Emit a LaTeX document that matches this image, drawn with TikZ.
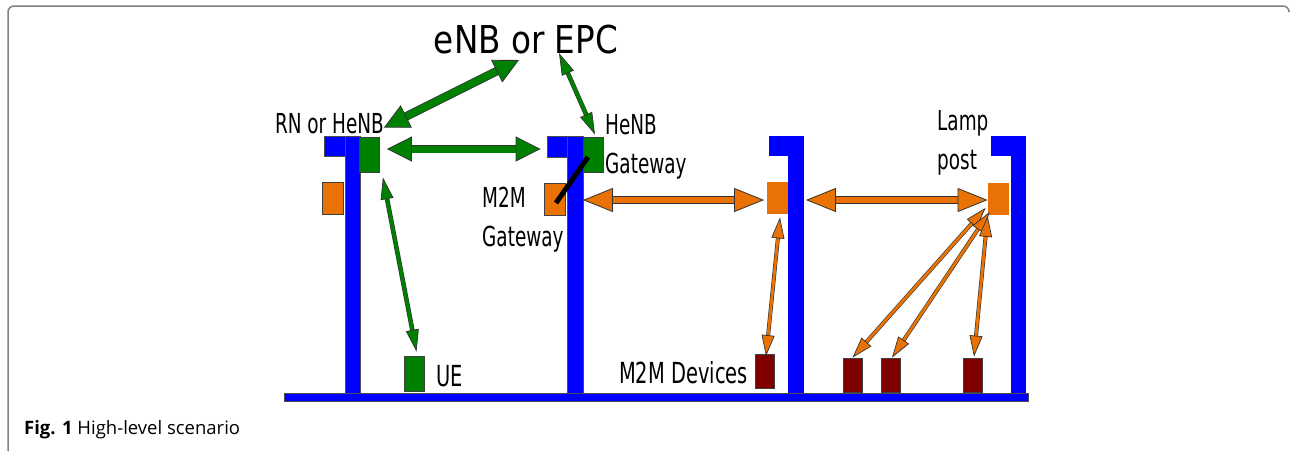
\documentclass[tikz,border=0pt]{standalone}
\usepackage{fontspec}
\usepackage{tikz}
\usetikzlibrary{arrows.meta,calc}
\newfontfamily\sceneFont[FakeStretch=0.67]{DejaVu Sans}
\newfontfamily\titleFont[FakeStretch=0.85]{DejaVu Sans}
\newfontfamily\captionFont{Open Sans}
\definecolor{sceneBlue}{HTML}{0000FF}
\definecolor{sceneGreen}{HTML}{008000}
\definecolor{sceneOrange}{HTML}{EA7204}
\definecolor{sceneRed}{HTML}{800000}
\definecolor{sceneFrame}{HTML}{7F7F7F}
\tikzset{
  frame line/.style={draw=sceneFrame, line width=1.5pt, rounded corners=6pt},
  pole/.style={draw=black!70, line width=0.8pt, fill=sceneBlue},
  hazy pole/.style={fill=sceneBlue},
  unit/.style={rectangle, draw=black!75, line width=0.8pt, inner sep=0pt},
  radio unit/.style={unit, fill=sceneGreen, minimum width=20pt,
    minimum height=35pt},
  m2m unit/.style={unit, fill=sceneOrange, minimum width=21pt,
    minimum height=32pt},
  device unit/.style={unit, fill=sceneRed, minimum width=19pt,
    minimum height=34pt},
  green fat link/.style={draw=sceneGreen, line width=7pt,
    arrows={Triangle[length=25pt,width=25pt,line width=0.8pt,color=black!80,fill=sceneGreen]-Triangle[length=25pt,width=25pt,line width=0.8pt,color=black!80,fill=sceneGreen]},
    preaction={draw=black!80, line width=8.6pt, arrows=-,
      shorten <=11pt, shorten >=11pt}},
  green thin link/.style={draw=sceneGreen, line width=3.4pt,
    arrows={Triangle[length=22pt,width=13pt,line width=0.7pt,color=black!80,fill=sceneGreen]-Triangle[length=22pt,width=13pt,line width=0.7pt,color=black!80,fill=sceneGreen]},
    preaction={draw=black!80, line width=4.6pt, arrows=-,
      shorten <=11pt, shorten >=11pt}},
  orange fat link/.style={draw=sceneOrange, line width=6pt,
    arrows={Triangle[length=30pt,width=24pt,line width=0.8pt,color=black!80,fill=sceneOrange]-Triangle[length=30pt,width=24pt,line width=0.8pt,color=black!80,fill=sceneOrange]},
    preaction={draw=black!80, line width=7.4pt, arrows=-,
      shorten <=12pt, shorten >=12pt}},
  orange thin link/.style={draw=sceneOrange, line width=2.8pt,
    arrows={Triangle[length=21pt,width=13pt,line width=0.7pt,color=black!80,fill=sceneOrange]-Triangle[length=21pt,width=13pt,line width=0.7pt,color=black!80,fill=sceneOrange]},
    preaction={draw=black!80, line width=4pt, arrows=-,
      shorten <=10pt, shorten >=10pt}},
  pole label/.style={inner sep=0pt, align=left,
    font=\sceneFont\fontsize{27.5}{39}\selectfont},
  ground label/.style={inner sep=0pt, font=\sceneFont\fontsize{29}{35}\selectfont},
  title label/.style={inner sep=0pt, font=\titleFont\fontsize{38.4}{46}\selectfont},
  caption label/.style={inner sep=0pt, font=\captionFont\fontsize{18.5}{22}\selectfont}
}
\begin{document}
\begin{tikzpicture}[x=1pt, y=-1pt]
  \useasboundingbox (0,0) rectangle (1292,451);
  \draw[frame line] (8,451) -- (8,6) -- (1289,6) -- (1289,11);

  \draw[pole] (324,136) rectangle (345,156);
  \draw[pole] (345,136) rectangle (360,393);
  \draw[pole] (547,136) rectangle (567,157);
  \draw[pole] (567,136) rectangle (583,393);
  \fill[hazy pole] (769,136) rectangle (788,156);
  \fill[hazy pole] (788,136) rectangle (804,393);
  \fill[hazy pole] (991,136) rectangle (1011,156);
  \fill[hazy pole] (1011,136) rectangle (1026,393);
  \draw[pole] (284,393) rectangle (1028,401);

  \node[radio unit] (rn) at (369.5,154.5) {};
  \node[radio unit] (henbgw) at (593,154.5) {};
  \node[radio unit] (ue) at (414.5,373.5) {};
  \node[m2m unit] (rnm2m) at (332.5,198.5) {};
  \node[m2m unit] (m2mgw) at (555,199) {};
  \node[m2m unit, draw=none] (mid) at (777,198) {};
  \node[m2m unit, draw=none] (lamp) at (998.5,198.5) {};
  \node[device unit] (dev1) at (765,371.5) {};
  \node[device unit] (dev2) at (852.5,375) {};
  \node[device unit] (dev3) at (891,375) {};
  \node[device unit] (dev4) at (973,375) {};
  \draw[line width=5pt] ($(henbgw.center)+(-5,2.5)$) -- ($(m2mgw.center)+(1,4)$);

  \node[title label, anchor=base] (epc) at (526,53) {eNB or EPC};
  \node[pole label, anchor=base east] (rnlabel) at (384,133) {RN or HeNB};
  \node[pole label, anchor=north west] (gwlabel) at (605,114) {HeNB\\Gateway};
  \node[pole label, anchor=north west] (m2mlabel) at (482,187) {M2M\\Gateway};
  \node[pole label, anchor=north west] (lamplabel) at (937,110) {Lamp\\post};
  \node[ground label, anchor=base west] (uelabel) at (436,386) {UE};
  \node[ground label, anchor=base east] (devlabel) at (748,383) {M2M Devices};
  \node[caption label, anchor=base west] (caption) at (24,434)
    {\textbf{Fig. 1} High-level scenario};
  \coordinate (epcL) at (519,60);
  \coordinate (epcR) at (559,53);

  \draw[green fat link] ($(rn.north east)+(4,-9)$) -- (epcL);
  \draw[green fat link] ($(rn.east)+(7,-5.5)$) -- ($(henbgw.west)+(-42,-5.5)$);
  \draw[green thin link] ($(henbgw.north)+(2,-2)$) -- (epcR);
  \draw[green thin link] ($(rn.south east)+(3,5)$) -- ($(ue.north)+(2,-4)$);
  \draw[orange fat link] ($(m2mgw.east)+(17,1)$) -- ($(mid.west)+(-2,2)$);
  \draw[orange fat link] ($(mid.east)+(18,2)$) -- ($(lamp.west)+(0,1.5)$);
  \draw[orange thin link] ($(mid.south)+(3,3)$) -- ($(dev1.north)+(1,2)$);
  \draw[orange thin link] ($(lamp.south west)+(-2,-7)$) -- (dev2.north);
  \draw[orange thin link] ($(lamp.south west)+(2,-3)$) -- ($(dev3.north)+(1,0)$);
  \draw[orange thin link] ($(lamp.south west)+(0,1)$) -- ($(dev4.north)+(1,-1)$);
\end{tikzpicture}
\end{document}
